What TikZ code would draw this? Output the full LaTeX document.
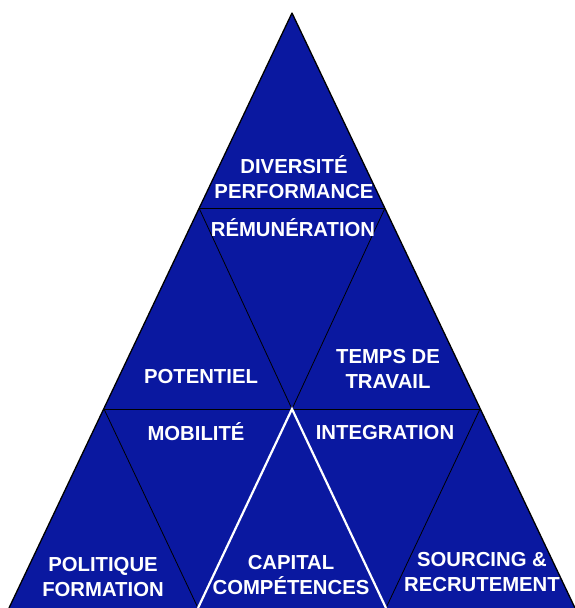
\documentclass[tikz,border=0pt]{standalone}
\usepackage{fontspec}
\setmainfont{Liberation Sans}
\usepackage{tikz}
\usetikzlibrary{calc}
\definecolor{pyrblue}{RGB}{10,24,160}
\tikzstyle{txt}=[text=white, font=\bfseries\fontsize{20.3}{24.5}\selectfont, align=center, inner sep=0pt]
\tikzstyle{edge}=[black, line width=0.8pt]
\tikzstyle{core}=[white, line width=2.2pt]

\begin{document}
\begin{tikzpicture}[x=1pt, y=-1pt]
 \useasboundingbox (0,0) rectangle (574,608);

      % corners of the pyramid
      \coordinate (top) at (292,13);
      \coordinate (l1) at (199,208);
      \coordinate (r1) at (385,208);
      \coordinate (l2) at (104,409);
      \coordinate (m2) at (292,409);
      \coordinate (r2) at (480,409);
      \coordinate (b0) at (9,608);
      \coordinate (b1) at (198,608);
      \coordinate (b2) at (386,608);
      \coordinate (b3) at (575,608);

      \fill[pyrblue] (top) -- (b3) -- (b0) -- cycle;
      \draw[edge] (l1) -- (r1) (l2) -- (r2);
      \draw[edge] (l1) -- (m2) -- (r1);
      \draw[edge] (l2) -- (b1) (r2) -- (b2);
      \draw[core] (b1) -- (m2) -- (b2);
      \draw[black, line width=1.3pt, line join=round] (b0) -- (top) -- (b3);

      % labels
      \node[txt] (div) at (294,177) {DIVERSITÉ\\PERFORMANCE};
      \node[txt] (rem) at (293,228) {RÉMUNÉRATION};
      \node[txt] (pot) at (201,377) {POTENTIEL};
      \node[txt] (tps) at (388,369) {TEMPS DE\\TRAVAIL};
      \node[txt] (mob) at (196,432) {MOBILITÉ};
      \node[txt] (int) at (385,433) {INTEGRATION};
      \node[txt] (pol) at (103,577) {POLITIQUE\\FORMATION};
      \node[txt] (cap) at (291,575) {CAPITAL\\COMPÉTENCES};
      \node[txt] (src) at (482,572) {SOURCING \&\\RECRUTEMENT};

\end{tikzpicture}
\end{document}
